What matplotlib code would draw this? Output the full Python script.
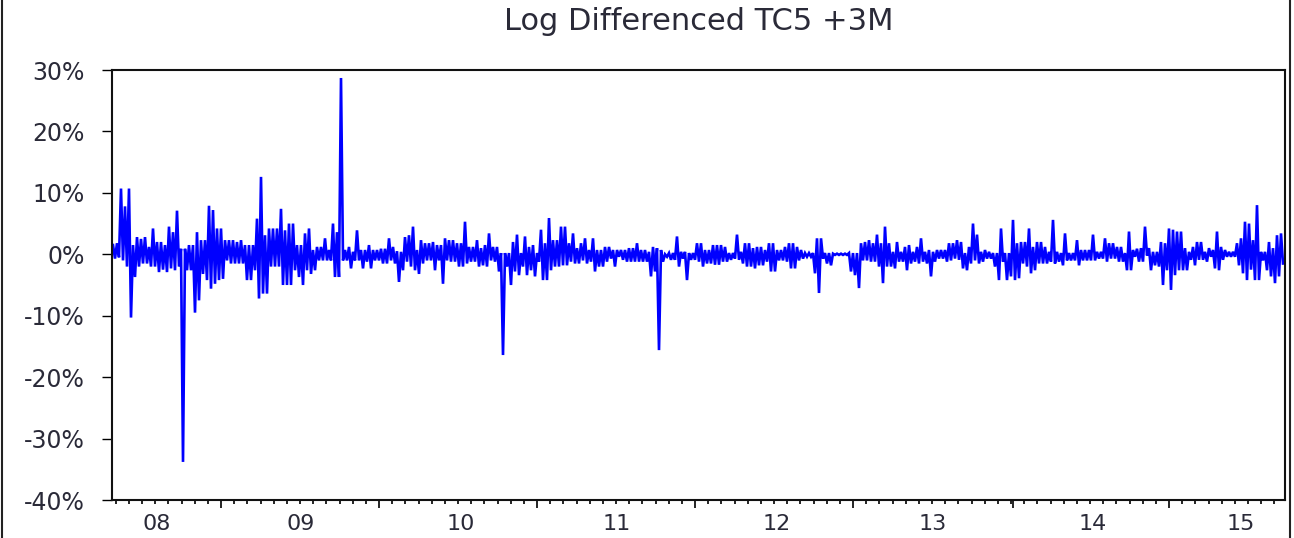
import numpy as np
import matplotlib
matplotlib.use("Agg")
import matplotlib.pyplot as plt
from matplotlib.lines import Line2D
from matplotlib.ticker import FixedLocator, NullFormatter

# ---------------- data (percent) ----------------
# Per short time block: the block's high and the block's low daily log change
highs = [
    1.5, 1.8, 10.7, 7.8, 10.7, 1.5, 2.8, 2.5, 2.8, 1.2,
    4.2, 2.0, 2.0, 1.5, 4.5, 3.6, 7.1, 0.9, 0.9, 1.5,
    1.5, 3.6, 2.3, 2.3, 7.9, 7.2, 4.2, 4.2, 2.3, 2.3,
    2.3, 2.0, 2.3, 1.5, 1.5, 1.5, 5.8, 12.6, 3.1, 4.2,
    4.2, 4.2, 7.4, 3.9, 5.0, 5.0, 1.5, 1.5, 3.4, 4.2,
    0.7, 1.2, 1.2, 2.6, 0.7, 5.0, 3.6, 28.7, 0.7, 1.2,
    0.4, 3.9, 0.7, 0.7, 1.5, 0.7, 0.7, 0.9, 0.9, 2.6,
    1.2, 0.5, 0.4, 2.8, 3.1, 4.5, 0.7, 2.3, 1.8, 1.8,
    2.0, 1.5, 1.5, 2.6, 2.3, 2.3, 1.8, 1.8, 5.3, 1.2,
    1.2, 2.3, 1.0, 1.5, 3.4, 1.2, 1.2, 0.2, 0.2, 0.2,
    2.0, 3.2, 0.2, 2.9, 1.2, 1.5, 0.2, 4.0, 1.8, 5.9,
    2.3, 2.3, 4.5, 4.5, 1.8, 3.4, 1.0, 1.8, 2.6, 0.7,
    2.6, 0.7, 0.7, 1.2, 1.2, 0.7, 0.7, 0.7, 0.7, 1.0,
    1.0, 1.8, 0.7, 0.7, 0.4, 1.2, 1.0, 0.7, 0.0, 0.2,
    0.2, 2.9, 0.4, 0.4, 0.2, 0.2, 1.8, 1.8, 0.7, 0.7,
    1.5, 1.5, 1.5, 1.2, 0.2, 0.2, 3.2, 0.4, 1.8, 1.8,
    1.0, 1.2, 1.2, 0.7, 1.8, 1.8, 0.7, 0.7, 1.2, 1.8,
    1.8, 1.2, 0.7, 0.2, 0.2, 0.2, 2.6, 2.6, 0.2, 0.2,
    0.1, 0.1, 0.1, 0.1, 0.2, 0.2, 0.2, 1.8, 2.0, 2.3,
    1.8, 3.2, 1.8, 4.5, 1.8, 0.4, 2.0, 0.4, 1.2, 1.5,
    0.4, 1.2, 2.6, 0.4, 0.7, 0.4, 0.7, 0.7, 0.7, 1.8,
    1.8, 2.3, 2.0, 0.2, 1.2, 5.0, 3.2, 0.4, 0.7, 0.4,
    0.2, 0.2, 4.2, 0.2, 0.2, 5.6, 1.8, 2.0, 2.0, 4.2,
    1.2, 2.0, 2.0, 1.2, 0.4, 5.6, 0.4, 0.2, 3.4, 0.2,
    0.2, 2.3, 0.7, 0.7, 0.7, 3.2, 0.4, 0.4, 2.6, 1.8,
    1.8, 1.2, 1.2, 0.2, 3.7, 0.7, 0.9, 1.0, 4.5, 1.0,
    0.4, 0.4, 2.0, 1.8, 4.2, 4.0, 3.7, 3.7, 1.0, 0.4,
    1.2, 2.0, 2.0, 0.4, 1.0, 0.7, 3.7, 1.2, 0.7, 0.4,
    0.4, 1.8, 2.6, 5.3, 5.0, 2.3, 8.0, 0.4, 0.4, 2.0,
    1.0, 3.1, 3.4,
]
lows = [
    -0.7, -0.5, -1.0, -2.0, -10.3, -3.7, -2.0, -1.5, -1.5, -2.0,
    -2.0, -2.9, -2.5, -2.9, -2.3, -2.6, -2.0, -33.8, -2.6, -2.6,
    -9.5, -7.5, -3.2, -4.2, -5.6, -4.8, -4.2, -4.0, -1.0, -1.5,
    -1.5, -1.5, -1.5, -4.2, -4.2, -2.6, -7.2, -6.4, -6.4, -2.0,
    -2.0, -2.0, -5.0, -5.0, -5.0, -2.6, -3.7, -5.0, -2.6, -3.2,
    -2.6, -1.0, -1.0, -1.0, -1.0, -3.7, -3.7, -1.0, -1.0, -2.3,
    -1.0, -1.0, -2.3, -1.2, -2.3, -1.0, -1.0, -1.5, -1.5, -1.0,
    -1.5, -4.5, -2.6, -1.2, -2.0, -2.6, -3.2, -1.5, -1.0, -1.0,
    -2.6, -1.0, -4.8, -1.0, -1.2, -1.2, -2.0, -2.0, -1.5, -1.2,
    -1.2, -2.0, -1.8, -2.0, -1.0, -1.2, -2.8, -16.4, -2.0, -5.0,
    -2.8, -3.4, -2.0, -3.4, -2.6, -3.6, -1.2, -4.2, -4.2, -2.6,
    -2.0, -2.0, -1.8, -1.8, -1.2, -1.5, -1.5, -1.0, -1.5, -1.2,
    -2.8, -2.0, -2.0, -1.2, -0.7, -2.0, -0.4, -0.9, -1.2, -1.2,
    -1.2, -1.2, -1.2, -1.2, -3.6, -2.8, -15.6, -1.2, -0.4, -0.9,
    -0.9, -2.0, -0.7, -4.2, -0.9, -0.9, -1.2, -2.0, -1.5, -1.5,
    -1.7, -1.7, -1.2, -1.2, -0.9, -0.7, -0.9, -1.5, -2.0, -2.0,
    -2.3, -1.8, -1.8, -1.2, -2.8, -2.8, -1.0, -1.0, -1.2, -2.3,
    -2.3, -1.0, -0.7, -0.4, -0.4, -3.1, -6.3, -0.7, -1.5, -1.8,
    -0.1, -0.1, -0.1, -0.1, -2.8, -3.4, -5.5, -1.0, -1.0, -1.2,
    -1.2, -2.0, -4.7, -2.0, -2.0, -2.3, -1.2, -1.2, -2.6, -1.5,
    -1.2, -1.5, -1.2, -1.5, -3.6, -1.2, -0.7, -0.7, -1.2, -1.0,
    -0.7, -0.9, -2.3, -2.6, -1.5, -1.0, -1.5, -1.2, -0.7, -0.7,
    -2.0, -4.2, -1.2, -4.2, -3.6, -4.2, -3.9, -1.5, -2.0, -3.1,
    -2.6, -1.5, -1.5, -1.5, -1.2, -1.5, -1.2, -1.8, -1.0, -1.0,
    -1.0, -1.8, -1.0, -1.0, -1.0, -1.0, -0.7, -0.7, -1.2, -0.7,
    -0.7, -1.2, -1.2, -2.6, -2.6, -0.4, -1.2, -1.2, -0.2, -2.6,
    -1.8, -2.0, -5.0, -2.6, -5.8, -3.4, -2.6, -2.6, -2.6, -0.9,
    -1.8, -0.9, -0.9, -1.2, -0.4, -2.3, -2.6, -0.9, -0.4, -0.4,
    -0.4, -1.8, -3.1, -4.2, -2.5, -4.2, -4.2, -1.0, -2.6, -3.6,
    -4.7, -3.6, -1.5,
]

year_labels = ["08", "09", "10", "11", "12", "13", "14", "15"]
year_label_pos = [22, 94, 174, 252, 332, 410, 490, 564]      # observation index
year_tick_pos = [54, 133, 212, 291, 370, 450, 528]           # observation index
y_ticks = [-40, -30, -20, -10, 0, 10, 20, 30]
y_tick_labels = ["-40%", "-30%", "-20%", "-10%", "0%", "10%", "20%", "30%"]
title = "Log Differenced TC5 +3M"

# ---------------- figure ----------------
W, H = 1294, 538
fig = plt.figure(figsize=(W / 100, H / 100), dpi=100)
fig.patch.set_facecolor("white")
ax = fig.add_axes([112 / W, 1 - 500 / H, (1285 - 112) / W, (500 - 70) / H])

series = np.column_stack([highs, lows]).ravel()
obs = np.arange(len(series))
ax.plot(obs, series, color="#0000FF", lw=1.9, solid_joinstyle="miter")

ax.set_xlim(-0.5, len(series))
ax.set_ylim(-40, 30)

txt_color = "#2a2a38"
ax.yaxis.set_major_locator(FixedLocator(y_ticks))
ax.set_yticklabels(y_tick_labels, fontsize=17, color=txt_color, family="DejaVu Sans")
ax.tick_params(axis="y", direction="out", length=7.5, width=1.0, pad=12)

# long ticks at year marks, short ticks in between
step = (year_tick_pos[-1] - year_tick_pos[0]) / (len(year_tick_pos) - 1) / 12
minor = np.arange(year_tick_pos[0] - 8 * step, len(series), step)
ax.xaxis.set_major_locator(FixedLocator(year_tick_pos))
ax.xaxis.set_major_formatter(NullFormatter())
ax.xaxis.set_minor_locator(FixedLocator(minor))
ax.tick_params(axis="x", which="major", direction="out", length=5.5, width=1.2)
ax.tick_params(axis="x", which="minor", direction="out", length=2.6, width=1.2)

sec = ax.secondary_xaxis("bottom")
sec.set_xticks(year_label_pos)
sec.set_xticklabels(year_labels, fontsize=16, color=txt_color, family="DejaVu Sans")
sec.tick_params(length=0, pad=10)
sec.spines["bottom"].set_visible(False)

for s in ax.spines.values():
    s.set_linewidth(1.5)
    s.set_color("#111111")

fig.text(698.5 / W, 1 - 22 / H, title, ha="center", va="center",
         fontsize=22, color=txt_color, family="DejaVu Sans")

# outer frame lines of the original screenshot
fig.add_artist(Line2D([2 / W, 2 / W], [0, 1], transform=fig.transFigure,
                      color="#222222", lw=1.5))
fig.add_artist(Line2D([1290 / W, 1290 / W], [0, 1], transform=fig.transFigure,
                      color="#222222", lw=1.5))

fig.savefig("out.png", dpi=100, facecolor="white")
